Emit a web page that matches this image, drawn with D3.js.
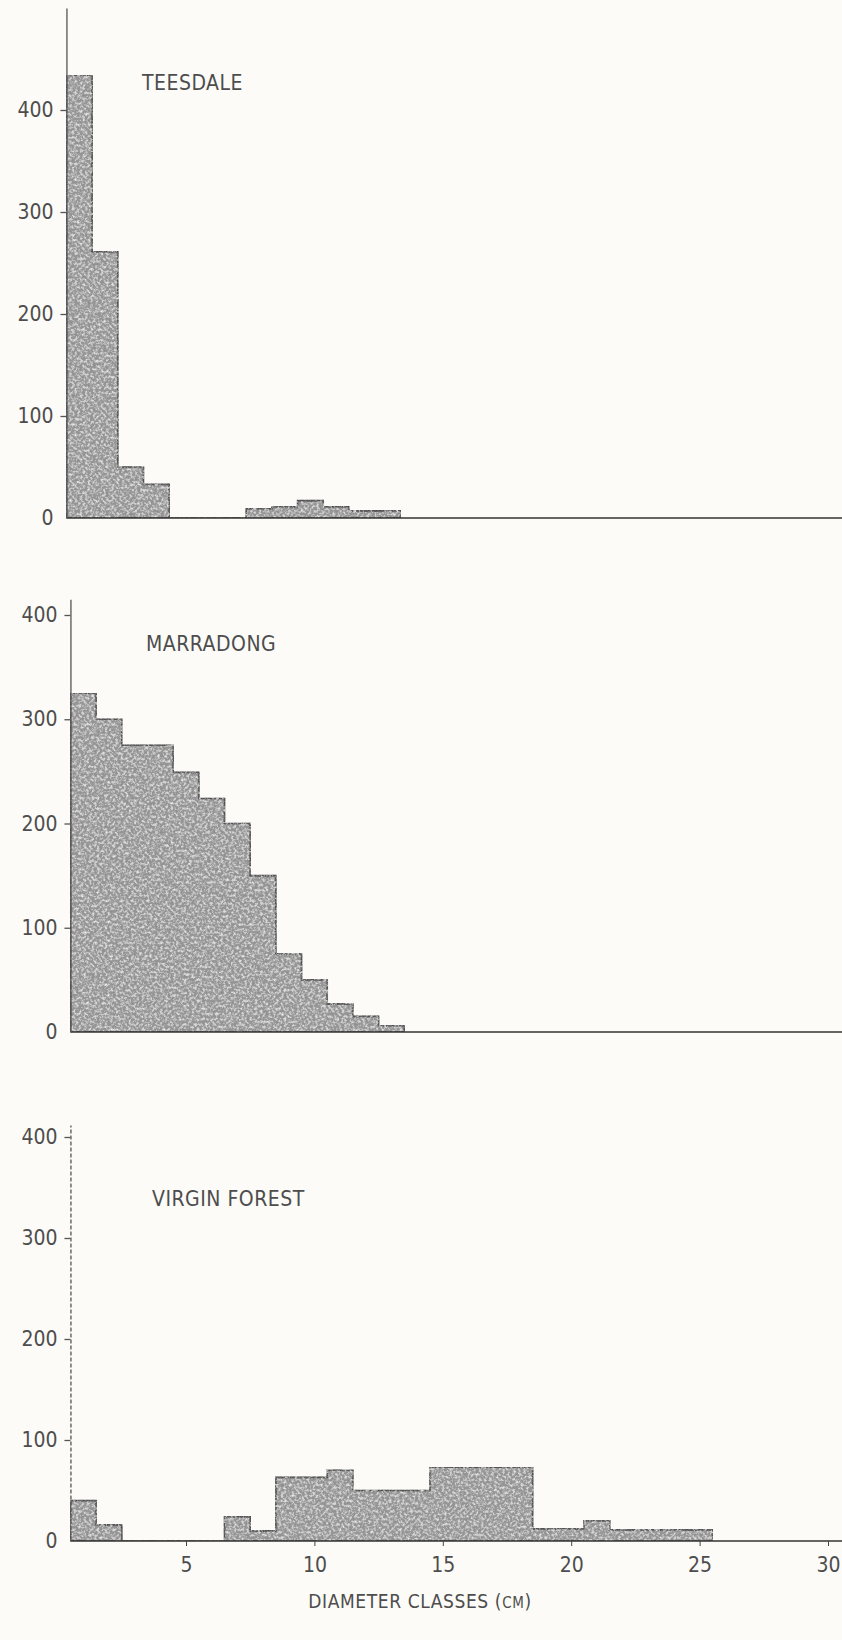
<!DOCTYPE html>
<meta charset="utf-8">
<title>Diameter classes</title>
<script src="https://d3js.org/d3.v7.min.js"></script>
<style>
    body { margin: 0; background: #fcfbf8; }
    text {
        font-family: 'DejaVu Sans Condensed', 'Liberation Sans Narrow', sans-serif;
        fill: #4d4d4d;
    }
    .tick text { font-size: 21px; }
    text.name { font-size: 21px; letter-spacing: 0.5px; }
    text.xtitle { font-size: 19px; letter-spacing: 0.6px; }
</style>
<div id="chart"></div>
<script>

// values, one count per 1 cm diameter class (class k spans k-0.5 .. k+0.5)
var teesdaleCounts  = [434, 261, 50, 33, 0, 0, 0, 9, 11, 17, 11, 7, 7];
var marradongCounts = [325, 300, 275, 275, 249, 224, 200, 150, 75, 50, 27, 15, 6];
var virginCounts    = [40, 16, 0, 0, 0, 0, 24, 10, 63, 63, 70, 50, 50, 50,
                       73, 73, 73, 73, 12, 12, 20, 11, 11, 11, 11];
var siteNames = ["TEESDALE", "MARRADONG", "VIRGIN FOREST"];
var yTicks = [0, 100, 200, 300, 400];
var xTicks = [5, 10, 15, 20, 25, 30];

var width = 842, height = 1640;

var svg = d3.select("#chart")
  .append("svg")
    .attr("width", width)
    .attr("height", height);

// mottled grey, like the old photocopy
var filt = svg.append("defs").append("filter")
    .attr("id", "grain")
    .attr("x", 0).attr("y", 0).attr("width", 1).attr("height", 1);
filt.append("feTurbulence")
    .attr("type", "fractalNoise")
    .attr("baseFrequency", 0.38)
    .attr("numOctaves", 3)
    .attr("seed", 7)
    .attr("result", "noise");
filt.append("feColorMatrix")
    .attr("in", "noise")
    .attr("type", "matrix")
    .attr("values", "0 0 0 0 0.25  0 0 0 0 0.25  0 0 0 0 0.25  2 0 0 0 -0.9")
    .attr("result", "dark");
filt.append("feColorMatrix")
    .attr("in", "noise")
    .attr("type", "matrix")
    .attr("values", "0 0 0 0 0.92  0 0 0 0 0.92  0 0 0 0 0.92  -2 0 0 0 1.1")
    .attr("result", "light");
filt.append("feComposite")
    .attr("in", "dark").attr("in2", "SourceAlpha")
    .attr("operator", "in").attr("result", "darkIn");
filt.append("feComposite")
    .attr("in", "light").attr("in2", "SourceAlpha")
    .attr("operator", "in").attr("result", "lightIn");
var merge = filt.append("feMerge");
merge.append("feMergeNode").attr("in", "SourceGraphic");
merge.append("feMergeNode").attr("in", "darkIn");
merge.append("feMergeNode").attr("in", "lightIn");

// shared horizontal scale (cm)
var x = d3.scaleLinear()
    .domain([0, 30])
    .range([57.6, 828]);

// layout of the three panels (pixels)
var panels = [
  {name: siteNames[0], counts: teesdaleCounts,  base: 518,  top: 110,  axisMax: 500, dx: -4, nameX: 146, nameY: 90,   dash: null},
  {name: siteNames[1], counts: marradongCounts, base: 1032, top: 615,  axisMax: 415, dx: 0,  nameX: 146, nameY: 651,  dash: null},
  {name: siteNames[2], counts: virginCounts,    base: 1541, top: 1137, axisMax: 412, dx: 0,  nameX: 152, nameY: 1206, dash: "4,2"}
];

panels.forEach(function(p, pi) {
    var y = d3.scaleLinear()
        .domain([0, 400])
        .range([p.base, p.top]);

    var g = svg.append("g")
        .attr("transform", "translate(" + p.dx + ",0)");

    // histogram as one stepped outline
    var pts = p.counts.map(function(c, i) { return [i + 0.5, c]; });
    pts.push([p.counts.length + 0.5, p.counts[p.counts.length - 1]]);

    var area = d3.area()
        .x(function(d) { return x(d[0]); })
        .y0(y(0))
        .y1(function(d) { return y(d[1]); })
        .curve(d3.curveStepAfter);

    g.append("path")
        .datum(pts)
        .attr("d", area)
        .attr("fill", "#9d9d9d")
        .attr("stroke", "#2e2e2e")
        .attr("stroke-width", 1.6)
        .attr("filter", "url(#grain)");

    // baseline
    g.append("line")
        .attr("x1", x(0.5))
        .attr("x2", x(31))
        .attr("y1", y(0))
        .attr("y2", y(0))
        .attr("stroke", "#333")
        .attr("stroke-width", 1.6);

    // y axis, its line runs a bit above the 400 tick
    var yAxisScale = y.copy()
        .domain([0, p.axisMax])
        .range([y(0), y(p.axisMax)]);

    var ax = g.append("g")
        .attr("transform", "translate(" + x(0.5) + ",0)")
        .call(d3.axisLeft(yAxisScale).tickValues(yTicks).tickSize(6).tickSizeOuter(0).tickPadding(7));
    ax.select(".domain")
        .attr("stroke", "#555")
        .attr("stroke-width", 1.3)
        .attr("stroke-dasharray", p.dash);
    ax.selectAll(".tick line").attr("stroke", "#555").attr("stroke-width", 1.3);
    ax.selectAll(".tick text").attr("font-family", null).attr("font-size", null);
    ax.selectAll(".tick").filter(function(d) { return d === 0; }).select("line").remove();

    g.append("text")
        .attr("class", "name")
        .attr("x", p.nameX)
        .attr("y", p.nameY)
        .text(p.name);

    // only the bottom panel has the diameter scale
    if (pi === panels.length - 1) {
        var bx = g.append("g")
            .attr("transform", "translate(0," + y(0) + ")")
            .call(d3.axisBottom(x).tickValues(xTicks).tickSize(5).tickPadding(11));
        bx.select(".domain").remove();
        bx.selectAll(".tick line").attr("stroke", "#444");
        bx.selectAll(".tick text").attr("font-family", null).attr("font-size", null);
    }
});

var xt = svg.append("text")
    .attr("class", "xtitle")
    .attr("x", 420)
    .attr("y", 1608)
    .attr("text-anchor", "middle");
xt.append("tspan").text("DIAMETER CLASSES (");
xt.append("tspan").attr("font-size", "15px").text("CM");
xt.append("tspan").text(")");

</script>
